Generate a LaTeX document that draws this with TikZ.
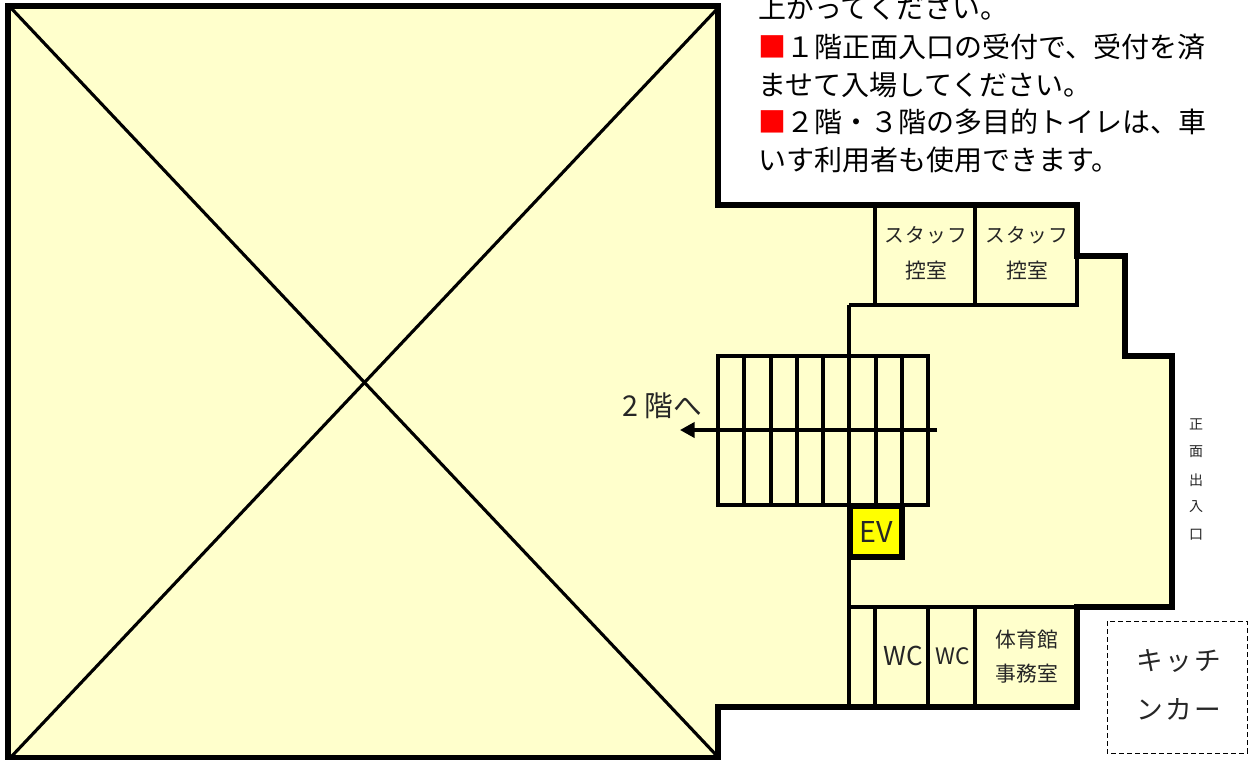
\documentclass[tikz,border=0pt]{standalone}
\usepackage{fontspec}
\setmainfont{Noto Sans CJK JP}
\newfontfamily\trk[LetterSpace=6]{Noto Sans CJK JP}
\usetikzlibrary{arrows.meta}
\definecolor{floor}{HTML}{FFFFCC}
\definecolor{ink}{HTML}{262626}
\definecolor{evfill}{HTML}{FFFF00}
\definecolor{mark}{HTML}{FF0000}
\tikzset{
  x=0.75pt,y=-0.75pt,
  wall/.style={line width=4.5pt,line join=miter,draw=black},
  thin wall/.style={line width=2.35pt,draw=black},
  tread/.style={line width=2.35pt,draw=black},
  room/.style={inner sep=0pt,align=center,text=ink,font=\fontsize{15.6}{27.5}\selectfont},
  roomtrk/.style={inner sep=0pt,align=center,text=ink,font=\fontsize{14.8}{27.5}\selectfont},
  note/.style={inner sep=0pt,anchor=west,text=black,font=\fontsize{21}{28}\selectfont},
  side/.style={inner sep=0pt,text=ink,font=\fontsize{10.5}{12}\selectfont}
}
\begin{document}
\begin{tikzpicture}
\useasboundingbox (0,0) rectangle (1250,760);
\fill[white] (0,0) rectangle (1250,760);
% floor outline
\fill[floor] (7.5,6) -- (718,6) -- (718,205) -- (1077,205) -- (1077,256) -- (1124.5,256) -- (1124.5,355.5) -- (1172,355.5) -- (1172,607) -- (1077,607) -- (1077,707) -- (718,707) -- (718,758) -- (7.5,758) -- cycle;
% diagonals
\coordinate (tl) at (11,8); \coordinate (tr) at (718,8);
\coordinate (bl) at (11,757); \coordinate (br) at (718,757);
\draw[thin wall] (tl) -- (br);
\draw[thin wall] (tr) -- (bl);
% inner walls
\draw[thin wall] (849,305) -- (849,707);
\draw[thin wall] (849,305) -- (1077,305) -- (1077,256);
\draw[thin wall] (875,205) -- (875,305);
\draw[thin wall] (975,205) -- (975,305);
\draw[thin wall] (849,607) -- (1077,607);
\draw[thin wall] (875,607) -- (875,707);
\draw[thin wall] (928,607) -- (928,707);
\draw[thin wall] (975,607) -- (975,707);
\draw[wall] (7.5,6) -- (718,6) -- (718,205) -- (1077,205) -- (1077,256) -- (1124.5,256) -- (1124.5,355.5) -- (1172,355.5) -- (1172,607) -- (1077,607) -- (1077,707) -- (718,707) -- (718,758) -- (7.5,758) -- cycle;
% stairs
\draw[tread] (718,356) rectangle (928,505);
\foreach \sx in {744,771,797,823,849,876,902}{\draw[tread] (\sx,356) -- (\sx,505);}
\coordinate (arrowstart) at (937,430);
\coordinate (arrowend) at (680,430);
\draw[tread,-{Triangle[length=11pt,width=11.5pt]}] (arrowstart) -- (arrowend);
% EV
\node[draw=black,line width=4.5pt,fill=evfill,minimum width=39pt,minimum height=38.5pt,inner sep=0pt,text=ink,font=\fontsize{21.5}{24}\selectfont] (ev) at (876,531.5) {EV};
% labels
\node[inner sep=0pt,text=ink,font=\fontsize{21.5}{24}\selectfont] (to2) at (662,406) {2 階へ};
\node[note] (n1) at (758,8) {上がってください。};
\node[note] (n2) at (758,47) {{\color{mark}■}１階正面入口の受付で、受付を済};
\node[note] (n3) at (758,85) {ませて入場してください。};
\node[note] (n4) at (758,122) {{\color{mark}■}２階・３階の多目的トイレは、車};
\node[note] (n5) at (758,160) {いす利用者も使用できます。};
\node[roomtrk] (s1a) at (926,235) {\trk スタッフ};
\node[room] (s1b) at (926,271) {控室};
\node[roomtrk] (s2a) at (1027,235) {\trk スタッフ};
\node[room] (s2b) at (1027,271) {控室};
\node[room,font=\fontsize{19.5}{24}\selectfont] (wc1) at (903,656) {WC};
\node[room,font=\fontsize{17}{24}\selectfont] (wc2) at (953,656) {WC};
\node[room] (off1) at (1027,640) {体育館};
\node[room] (off2) at (1027,674) {事務室};
\foreach \nm/\ny/\tx in {a/424/正,b/452/面,c/480/出,d/507/入,e/535/口}{\node[side] (gate\nm) at (1196,\ny) {\tx};}
% kitchen car
\draw[line width=0.75pt,dash pattern=on 3.6pt off 2.4pt] (1107,621) rectangle (1247,753);
\node[inner sep=0pt,text=ink,font=\fontsize{20}{24}\selectfont\addfontfeature{LetterSpace=8}] (k1) at (1179,661) {キッチ};
\node[inner sep=0pt,text=ink,font=\fontsize{20}{24}\selectfont\addfontfeature{LetterSpace=8}] (k2) at (1179,709) {ンカー};
\end{tikzpicture}
\end{document}
